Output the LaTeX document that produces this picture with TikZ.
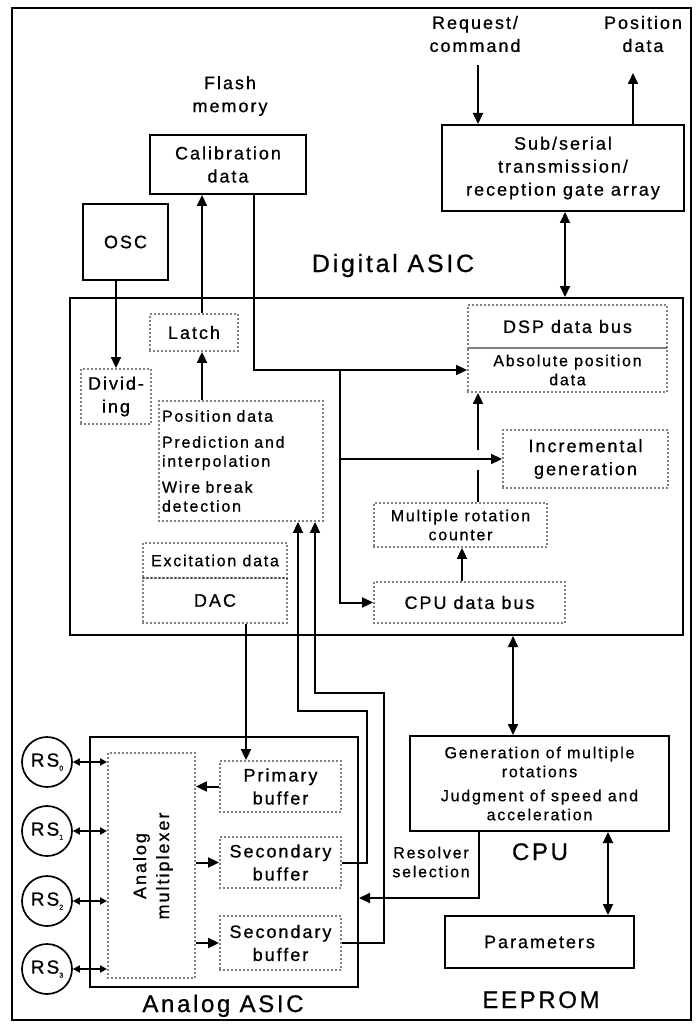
\documentclass[tikz,border=0pt]{standalone}
\usepackage{fontspec}
\setmainfont{Liberation Sans}[LetterSpace=11,FakeBold=0.7]
\usetikzlibrary{arrows.meta}
\newcommand\rssub[1]{\raisebox{-4pt}{\fontsize{7}{7}\selectfont #1}}
\begin{document}
\begin{tikzpicture}[x=1pt,y=-1pt,
  every node/.style={font=\fontsize{18}{23}\selectfont, inner sep=0pt, align=center},
  sbox/.style={draw, line width=2pt},
  dbox/.style={draw, line width=1.9pt, dash pattern=on 0pt off 4pt, line cap=round},
  conn/.style={line width=2pt},
  arr/.style={conn, -{Triangle[length=11pt,width=10pt]}},
  darr/.style={conn, {Triangle[length=11pt,width=10pt]}-{Triangle[length=11pt,width=10pt]}},
  sarr/.style={conn, {Triangle[length=7pt,width=7pt]}-{Triangle[length=7pt,width=7pt]}},
  small/.style={font=\fontsize{16}{19}\selectfont},
  big/.style={font=\fontsize{24}{28}\selectfont},
]
\useasboundingbox (0,0) rectangle (696,1024);
\fill[white] (0,0) rectangle (696,1024);
\draw[line width=1.3pt] (12,8) rectangle (691,1020);

% outer solid boxes
\node[sbox, minimum width=156, minimum height=59] (cal) at (228,164.5) {Calibration\\data};
\node[sbox, minimum width=85, minimum height=76] (osc) at (125.5,242) {OSC};
\node[sbox, minimum width=242, minimum height=86] (gate) at (563,168) {Sub/serial\\transmission/\\reception gate array};
\node[sbox, minimum width=613, minimum height=337] (dig) at (376.5,466.5) {};
\node[sbox, minimum width=259, minimum height=95, small] (cpu) at (539.5,783.5)
  {Generation of multiple\\rotations\\[5pt]Judgment of speed and\\acceleration};
\node[sbox, minimum width=189, minimum height=52] (params) at (539.5,942) {Parameters};
\node[sbox, minimum width=268, minimum height=250] (ana) at (224,862) {};

% labels
\node (flash) at (230,96) {Flash\\memory};
\node (req) at (475,34) {Request/\\command};
\node (posd) at (643,34) {Position\\data};
\node[big, font=\fontsize{25}{28}\selectfont, anchor=base] (diglab) at (393,272) {Digital ASIC};
\node[big, anchor=base] (analab) at (223,1012) {Analog ASIC};
\node[big, anchor=base] (cpulab) at (540,860) {CPU};
\node[big, anchor=base] (eeplab) at (541,1008) {EEPROM};
\node[small] (rsel) at (431,862) {Resolver\\selection};

% dotted boxes in digital ASIC
\node[dbox, minimum width=88, minimum height=37] (latch) at (194,332.5) {Latch};
\node[dbox, minimum width=70, minimum height=55] (div) at (116,396.5) {Divid-\\ing};
\node[dbox, minimum width=164, minimum height=120, text width=158, align=left, small] (pos) at (241,461)
  {Position data\\[7pt]Prediction and\\interpolation\\[7pt]Wire break\\detection};
\node[dbox, minimum width=144, minimum height=35, small] (exc) at (215,560.5) {Excitation data};
\node[dbox, minimum width=144, minimum height=45] (dac) at (215,600.5) {DAC};
\node[dbox, minimum width=199, minimum height=43] (dsp) at (567.5,326.5) {DSP data bus};
\node[dbox, minimum width=199, minimum height=44, small] (abs) at (567.5,370) {Absolute position\\data};
\node[dbox, minimum width=165, minimum height=58] (inc) at (585.5,459) {Incremental\\generation};
\node[dbox, minimum width=173, minimum height=44, small] (mrc) at (460.5,525) {Multiple rotation\\counter};
\node[dbox, minimum width=191, minimum height=41] (cpubus) at (469.5,602.5) {CPU data bus};

% analog ASIC content
\node[dbox, minimum width=87, minimum height=225] (mux) at (151.5,865.5) {};
\node[rotate=90] (muxtxt) at (153,866) {Analog\\multiplexer};
\node[dbox, minimum width=121, minimum height=51] (prim) at (280.5,786.5) {Primary\\buffer};
\node[dbox, minimum width=121, minimum height=51] (sec1) at (280.5,862.5) {Secondary\\buffer};
\node[dbox, minimum width=121, minimum height=54] (sec2) at (280.5,943) {Secondary\\buffer};

\foreach \i/\yy in {0/762,1/831,2/901,3/969}{
  \node[draw, circle, line width=1.7pt, minimum size=50, font=\fontsize{19}{19}\selectfont] (rs\i) at (47,\yy) {RS\rssub{\i}};
  \draw[sarr] (rs\i.east) -- (rs\i.east -| mux.west);
}

% coordinates for connector columns
\coordinate (lx) at (202,0);
\coordinate (cx) at (254,0);
\coordinate (jx) at (340,0);
\coordinate (gl) at (478,470);
\coordinate (gh) at (478,450);
\coordinate (mx) at (462,0);
\coordinate (gx) at (565,0);
\coordinate (bx) at (513,0);
\coordinate (px) at (608,0);
\coordinate (dx) at (246,0);
\coordinate (rq) at (478,65);
\coordinate (pd) at (633,73);
\coordinate (k1) at (367,711);
\coordinate (k2) at (384,693);
\coordinate (rs) at (479,898);

% connectors
\draw[arr] (rq) -- (rq |- gate.north);
\draw[arr] (pd |- gate.north) -- (pd);
\draw[darr] (gate.south -| gx) -- (dig.north -| gx);
\draw[arr] (osc.south -| div.north) -- (div.north);
\draw[arr] (pos.north -| lx) -- (latch.south -| lx);
\draw[arr] (latch.north -| lx) -- (cal.south -| lx);
\draw[arr] (cal.south -| cx) |- (abs.west);
\draw[arr] (abs.west -| jx) |- (cpubus.west);
\draw[arr] (inc.west -| jx) -- (inc.west);
\draw[conn] (mrc.north -| gl) -- (gl);
\draw[arr] (gh) -- (abs.south -| gh);
\draw[arr] (cpubus.north -| mx) -- (mrc.south -| mx);
\draw[darr] (dig.south -| bx) -- (cpu.north -| bx);
\draw[darr] (cpu.south -| px) -- (params.north -| px);
\draw[arr] (dac.south -| dx) -- (prim.north -| dx);
\draw[arr] (prim.west) -- (prim.west -| mux.east);
\draw[arr] (sec1.west -| mux.east) -- (sec1.west);
\draw[arr] (sec2.west -| mux.east) -- (sec2.west);
\draw[arr] (sec1.east) -| (k1) -| ([xshift=57pt]pos.south);
\draw[arr] (sec2.east) -| (k2) -| ([xshift=74pt]pos.south);
\draw[arr] (cpu.south -| rs) -- (rs) -- (rs -| ana.east);
\end{tikzpicture}
\end{document}
